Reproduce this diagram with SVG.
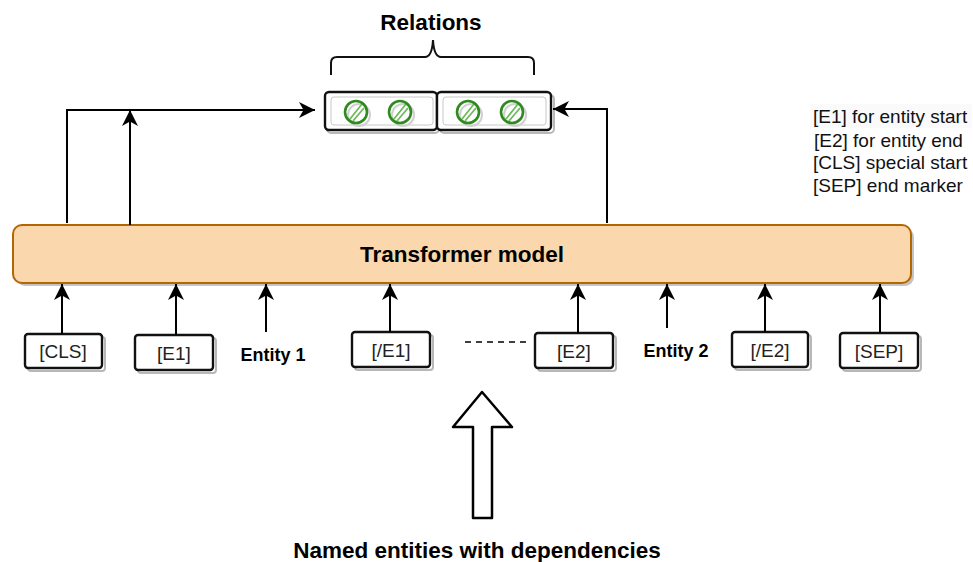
<svg xmlns="http://www.w3.org/2000/svg" width="973" height="562" viewBox="0 0 973 562">
  <style>
    .title { font-family: "Liberation Sans", Arial, sans-serif; font-weight: bold; font-size: 22.5px; fill: #000; text-anchor: middle; }
    .ent { font-family: "Liberation Sans", Arial, sans-serif; font-weight: bold; font-size: 18px; fill: #000; text-anchor: middle; }
    .tok { font-family: "Liberation Sans", Arial, sans-serif; font-size: 19px; fill: #222; text-anchor: middle; }
    .legend { font-family: "Liberation Sans", Arial, sans-serif; font-size: 19px; fill: #111; }
    .tokbox { fill: #fff; stroke: #111; stroke-width: 2.4; }
    .tokshadow { fill: none; stroke: #b8b8b8; stroke-width: 2; }
    .tokinner { fill: none; stroke: #c8c8c8; stroke-width: 1; }
    .edge { fill: none; stroke: #000; stroke-width: 2; }
    .circ { fill: none; stroke: #2f8a1f; stroke-width: 2.6; }
    .hatch { stroke: #6dbb5a; stroke-width: 1.8; }
    .cshadow { fill: none; stroke: #d0d0d0; stroke-width: 2; }
  </style>
  <defs>
    <marker id="arrow" markerUnits="userSpaceOnUse" markerWidth="18" markerHeight="16" refX="16" refY="8" orient="auto">
      <path d="M0,0 L16,8 L0,16 L4.5,8 Z" fill="#000"/>
    </marker>
  </defs>

  <rect width="973" height="562" fill="#fff"/>

  <!-- heading and brace -->
  <g id="relations-label">
    <text class="title" x="431" y="30">Relations</text>
    <path d="M331,75 L331,63 Q331,57 337,57 L425,57 Q432,57 433,40 Q434,57 441,57 L528,57 Q534,57 534,63 L534,75" fill="none" stroke="#111" stroke-width="2"/>
  </g>

  <!-- relation output slots -->
  <g id="relation-slots">
    <rect x="327" y="95" width="112" height="38" rx="4" class="tokshadow"/>
    <rect x="440" y="95" width="114" height="38" rx="4" class="tokshadow"/>
    <rect x="325" y="92" width="112" height="38" rx="4" class="tokbox" fill="none"/>
    <rect x="437" y="92" width="114" height="38" rx="4" class="tokbox" fill="none"/>
    <rect x="331" y="97" width="102" height="28" rx="3" class="tokinner"/>
    <rect x="443" y="97" width="103" height="28" rx="3" class="tokinner"/>
    <g id="slot-dots">
      <circle cx="359" cy="115" r="11" class="cshadow"/>
      <circle cx="403" cy="115" r="11" class="cshadow"/>
      <circle cx="471" cy="115" r="11" class="cshadow"/>
      <circle cx="515" cy="115" r="11" class="cshadow"/>
      <line x1="350" y1="119" x2="362" y2="104" class="hatch"/>
      <line x1="353" y1="121" x2="364" y2="108" class="hatch"/>
      <line x1="394" y1="119" x2="406" y2="104" class="hatch"/>
      <line x1="397" y1="121" x2="408" y2="108" class="hatch"/>
      <line x1="462" y1="119" x2="474" y2="104" class="hatch"/>
      <line x1="465" y1="121" x2="476" y2="108" class="hatch"/>
      <line x1="506" y1="119" x2="518" y2="104" class="hatch"/>
      <line x1="509" y1="121" x2="520" y2="108" class="hatch"/>
      <circle cx="356" cy="112" r="11" class="circ"/>
      <circle cx="400" cy="112" r="11" class="circ"/>
      <circle cx="468" cy="112" r="11" class="circ"/>
      <circle cx="512" cy="112" r="11" class="circ"/>
    </g>
  </g>

  <!-- legend -->
  <g id="legend">
    <rect x="810" y="104" width="162" height="24" fill="#fafafa"/>
    <text class="legend" x="813" y="123">[E1] for entity start</text>
    <text class="legend" x="814" y="147">[E2] for entity end</text>
    <text class="legend" x="813" y="169">[CLS] special start</text>
    <text class="legend" x="813" y="192">[SEP] end marker</text>
  </g>

  <!-- encoder block -->
  <g id="transformer">
    <rect x="16" y="228" width="898" height="58" rx="9" fill="#c4c4c4"/>
    <rect x="13" y="225" width="898" height="58" rx="9" fill="#fad7ac" stroke="#b46504" stroke-width="2"/>
    <text class="title" x="462" y="262" font-size="23">Transformer model</text>
  </g>

  <!-- input tokens -->
  <g id="tok-cls">
    <rect x="28" y="337" width="77" height="34" rx="3" class="tokshadow"/>
    <rect x="25" y="334" width="77" height="34" rx="3" class="tokbox"/>
    <text class="tok" x="63" y="358">[CLS]</text>
  </g>
  <g id="tok-e1">
    <rect x="138" y="338" width="78" height="35" rx="3" class="tokshadow"/>
    <rect x="135" y="335" width="78" height="35" rx="3" class="tokbox"/>
    <text class="tok" x="174" y="360">[E1]</text>
  </g>
  <g id="entity-1">
    <text class="ent" x="273" y="361">Entity 1</text>
  </g>
  <g id="tok-e1-end">
    <rect x="355" y="335" width="78" height="35" rx="3" class="tokshadow"/>
    <rect x="352" y="332" width="78" height="35" rx="3" class="tokbox"/>
    <text class="tok" x="391" y="357">[/E1]</text>
  </g>
  <g id="tok-e2">
    <rect x="538" y="336" width="78" height="35" rx="3" class="tokshadow"/>
    <rect x="535" y="333" width="78" height="35" rx="3" class="tokbox"/>
    <text class="tok" x="574" y="358">[E2]</text>
  </g>
  <g id="entity-2">
    <text class="ent" x="676" y="357">Entity 2</text>
  </g>
  <g id="tok-e2-end">
    <rect x="735" y="335" width="76" height="35" rx="3" class="tokshadow"/>
    <rect x="732" y="332" width="76" height="35" rx="3" class="tokbox"/>
    <text class="tok" x="770" y="357">[/E2]</text>
  </g>
  <g id="tok-sep">
    <rect x="843" y="336" width="78" height="35" rx="3" class="tokshadow"/>
    <rect x="840" y="333" width="78" height="35" rx="3" class="tokbox"/>
    <text class="tok" x="879" y="358">[SEP]</text>
  </g>

  <!-- input source arrow -->
  <g id="input-arrow">
    <polygon points="482,392 512,427 492,427 492,518 473,518 473,427 453,427" fill="#fff" stroke="#000" stroke-width="2.5" stroke-linejoin="round"/>
  </g>
  <g id="input-label">
    <text class="title" x="477" y="558" font-size="22">Named entities with dependencies</text>
  </g>

  <!-- connectors -->
  <g id="connectors">
    <path class="edge" d="M67,223 L67,110 L315,110" marker-end="url(#arrow)"/>
    <path class="edge" d="M130,225 L130,110" marker-end="url(#arrow)"/>
    <path class="edge" d="M607,223 L607,109 L553,109" marker-end="url(#arrow)"/>

    <path class="edge" d="M62,334 L62,284" marker-end="url(#arrow)"/>
    <path class="edge" d="M176,335 L176,284" marker-end="url(#arrow)"/>
    <path class="edge" d="M266,332 L266,284" marker-end="url(#arrow)"/>
    <path class="edge" d="M390,332 L390,284" marker-end="url(#arrow)"/>
    <path class="edge" d="M578,333 L578,284" marker-end="url(#arrow)"/>
    <path class="edge" d="M667,328 L667,284" marker-end="url(#arrow)"/>
    <path class="edge" d="M765,332 L765,284" marker-end="url(#arrow)"/>
    <path class="edge" d="M880,333 L880,284" marker-end="url(#arrow)"/>

    <line x1="465" y1="342" x2="528" y2="342" stroke="#000" stroke-width="1.6" stroke-dasharray="6,5"/>
  </g>
</svg>
